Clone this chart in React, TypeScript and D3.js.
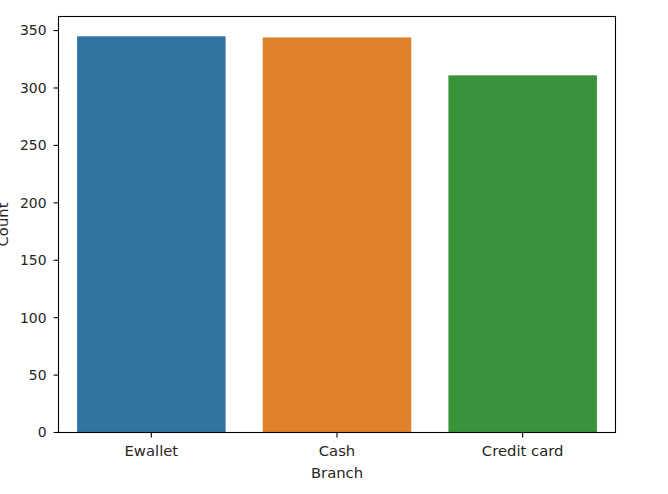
import React from "react";
import * as d3 from "d3";

const categories = ["Ewallet", "Cash", "Credit card"];
const counts = [345, 344, 311];
const colors = ["#3274a1", "#e1812c", "#3a923a"];
const yTicks = [0, 50, 100, 150, 200, 250, 300, 350];

export default function App() {
  const W = 668, H = 494;
  const left = 58.5, right = 615.5, top = 16.5, bottom = 432.5;
  const x = d3.scaleLinear().domain([-0.5, categories.length - 0.5]).range([left, right]);
  const y = d3.scaleLinear().domain([0, d3.max(counts)! * 1.05]).range([bottom, top]);
  const font = "DejaVu Sans, sans-serif";
  const fs = 13.9;
  const fsx = 14.8;
  const bw = 0.8;
  return (
    <svg width={W} height={H} style={{ position: "absolute", left: 0, top: 0 }} fontFamily={font}>
      <rect width={W} height={H} fill="#fff" />
      {categories.map((c, i) => (
        <rect key={c} x={x(i - bw / 2)} y={y(counts[i])} width={x(i + bw / 2) - x(i - bw / 2)} height={y(0) - y(counts[i])} fill={colors[i]} />
      ))}
      <rect x={left} y={top} width={right - left} height={bottom - top} fill="none" stroke="#000" strokeWidth={1.1} />
      {yTicks.map((t) => (
        <g key={t}>
          <line x1={left - 4.9} x2={left} y1={y(t)} y2={y(t)} stroke="#000" strokeWidth={1.1} />
          <text x={left - 12} y={y(t)} dy="0.35em" textAnchor="end" fontSize={fs} fill="#262626">{t}</text>
        </g>
      ))}
      {categories.map((c, i) => (
        <g key={c}>
          <line x1={x(i)} x2={x(i)} y1={bottom} y2={bottom + 4.9} stroke="#000" strokeWidth={1.1} />
          <text x={x(i)} y={456} textAnchor="middle" fontSize={fsx} fill="#262626">{c}</text>
        </g>
      ))}
      <text x={(left + right) / 2} y={478} textAnchor="middle" fontSize={fsx} fill="#262626">Branch</text>
      <text transform={`translate(8,${(top + bottom) / 2}) rotate(-90)`} textAnchor="middle" fontSize={fsx} fill="#262626">Count</text>
    </svg>
  );
}
